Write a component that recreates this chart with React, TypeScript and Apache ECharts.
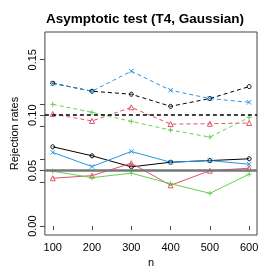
import React, { useEffect, useRef } from "react";
import * as echarts from "echarts";

const nValues = [100, 200, 300, 400, 500, 600];

// Solid lines (nominal level 0.05)
const solidBlack = [0.0715, 0.0634, 0.0534, 0.0576, 0.0591, 0.0607];
const solidRed = [0.0432, 0.0455, 0.0567, 0.0368, 0.05, 0.0522];
const solidGreen = [0.0495, 0.0437, 0.0477, 0.0383, 0.0296, 0.0468];
const solidBlue = [0.0664, 0.0537, 0.0673, 0.0576, 0.0591, 0.0558];

// Dashed lines (nominal level 0.10)
const dashedBlack = [0.1288, 0.1216, 0.1189, 0.108, 0.115, 0.1258];
const dashedRed = [0.1011, 0.0948, 0.1071, 0.092, 0.0923, 0.093];
const dashedGreen = [0.1098, 0.1026, 0.0944, 0.0866, 0.0803, 0.098];
const dashedBlue = [0.1288, 0.1216, 0.1397, 0.1225, 0.115, 0.1116];

const nominalLevels = [0.05, 0.1];
const yTickValues = [0, 0.04, 0.05, 0.06, 0.09, 0.1, 0.11, 0.15];
const yLabelValues = [0, 0.05, 0.1, 0.15];
const xTickValues = [100, 200, 300, 400, 500, 600];

const BLACK = "#000000";
const RED = "#DF536B";
const GREEN = "#61D04F";
const BLUE = "#2297E6";

const PLUS = "path://M5,0L5,10M0,5L10,5";
const CROSS = "path://M0,0L10,10M10,0L0,10";

export default function App() {
  const ref = useRef<HTMLDivElement>(null);
  useEffect(() => {
    if (!ref.current) return;
    const chart = echarts.init(ref.current, null, { renderer: "svg" });
    const font = "Liberation Sans";
    const mk = (
      vals: number[],
      color: string,
      symbol: string,
      size: number,
      dashed: boolean
    ) => ({
      type: "line",
      data: nValues.map((n, i) => [n, vals[i]]),
      symbol,
      symbolSize: size,
      showAllSymbol: true,
      lineStyle: { color, width: 1, type: dashed ? [4, 3] : "solid" },
      itemStyle: { color: "none", borderColor: color, borderWidth: 1 },
      z: 3,
    });
    chart.setOption({
      animation: false,
      grid: {
        left: 33,
        right: 17,
        top: 32,
        bottom: 39,
        show: true,
        borderColor: "#444",
        borderWidth: 1,
        backgroundColor: "transparent",
      },
      graphic: [
        {
          type: "text",
          x: 145,
          y: 18,
          style: {
            text: "Asymptotic test (T4, Gaussian)",
            textAlign: "center",
            textVerticalAlign: "middle",
            font: `bold 13.5px "${font}"`,
            fill: "#000",
          },
        },
      ],
      xAxis: {
        type: "value",
        min: 80,
        max: 620,
        name: "n",
        nameLocation: "middle",
        nameGap: 20,
        nameTextStyle: { fontFamily: font, fontSize: 11, color: "#000" },
        axisLine: { show: false },
        splitLine: { show: false },
        axisTick: {
          show: true,
          length: 4,
          customValues: xTickValues,
          lineStyle: { color: "#444" },
        },
        axisLabel: {
          customValues: xTickValues,
          fontFamily: font,
          fontSize: 11,
          color: "#000",
          margin: 6,
        },
      },
      yAxis: {
        type: "value",
        min: -0.008,
        max: 0.175,
        name: "Rejection rates",
        nameLocation: "middle",
        nameGap: 25,
        nameTextStyle: { fontFamily: font, fontSize: 11, color: "#000" },
        axisLine: { show: false },
        splitLine: { show: false },
        axisTick: {
          show: true,
          length: 5,
          customValues: yTickValues,
          lineStyle: { color: "#444" },
        },
        axisLabel: {
          customValues: yLabelValues,
          formatter: (v: number) => v.toFixed(2),
          rotate: 90,
          fontFamily: font,
          fontSize: 11,
          color: "#000",
          margin: 7,
        },
      },
      series: [
        {
          type: "line",
          data: [],
          markLine: {
            silent: true,
            symbol: "none",
            label: { show: false },
            data: [
              { yAxis: nominalLevels[0], lineStyle: { color: "#777", width: 2.5, type: "solid" } },
              { yAxis: nominalLevels[1], lineStyle: { color: "#000", width: 1.6, type: [4, 3] } },
            ],
          },
          z: 2,
        },
        mk(solidBlack, BLACK, "circle", 4, false),
        mk(solidRed, RED, "triangle", 5, false),
        mk(solidGreen, GREEN, PLUS, 5, false),
        mk(solidBlue, BLUE, CROSS, 4.5, false),
        mk(dashedBlack, BLACK, "circle", 4, true),
        mk(dashedRed, RED, "triangle", 5, true),
        mk(dashedGreen, GREEN, PLUS, 5, true),
        mk(dashedBlue, BLUE, CROSS, 4.5, true),
      ],
    });
    return () => chart.dispose();
  }, []);
  return (
    <div
      ref={ref}
      style={{ position: "fixed", left: 0, top: 0, width: 274, height: 274 }}
    />
  );
}
